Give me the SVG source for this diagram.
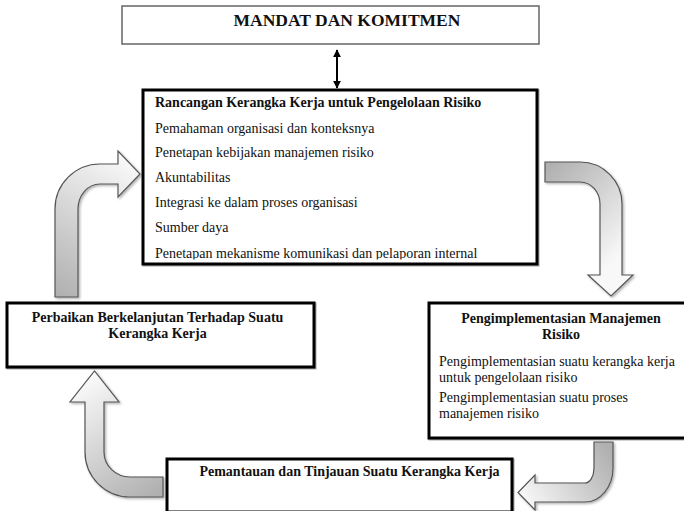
<svg xmlns="http://www.w3.org/2000/svg" width="684" height="511" viewBox="0 0 684 511">
  <defs>
    <style>
      .t { font-family: "Liberation Serif", "Times New Roman", serif; font-size: 14px; fill: #111; }
      .b { font-weight: bold; }
      .box { fill: #fff; stroke: #000; stroke-width: 3; }
      .arrow { stroke: #555; stroke-width: 1.2; filter: url(#shadow); }
    </style>
    <filter id="shadow" x="-20%" y="-20%" width="150%" height="150%">
      <feDropShadow dx="1.5" dy="1.5" stdDeviation="1" flood-color="#000" flood-opacity="0.3"/>
    </filter>
    <filter id="boxshadow" x="-5%" y="-5%" width="110%" height="115%">
      <feDropShadow dx="1" dy="1" stdDeviation="0.6" flood-color="#000" flood-opacity="0.35"/>
    </filter>
    <linearGradient id="gA" gradientUnits="userSpaceOnUse" x1="545" y1="170" x2="625" y2="250">
      <stop offset="0" stop-color="#b0b0b0"/><stop offset="1" stop-color="#f8f8f8"/>
    </linearGradient>
    <linearGradient id="gB" gradientUnits="userSpaceOnUse" x1="60" y1="297" x2="140" y2="170">
      <stop offset="0" stop-color="#b0b0b0"/><stop offset="1" stop-color="#f8f8f8"/>
    </linearGradient>
    <linearGradient id="gC" gradientUnits="userSpaceOnUse" x1="163" y1="490" x2="90" y2="380">
      <stop offset="0" stop-color="#b0b0b0"/><stop offset="1" stop-color="#f8f8f8"/>
    </linearGradient>
    <linearGradient id="gD" gradientUnits="userSpaceOnUse" x1="604" y1="442" x2="520" y2="495">
      <stop offset="0" stop-color="#b0b0b0"/><stop offset="1" stop-color="#f8f8f8"/>
    </linearGradient>
    <marker id="head" viewBox="0 0 10 10" refX="9" refY="5" markerWidth="4" markerHeight="4" orient="auto-start-reverse">
      <path d="M0,0 L10,5 L0,10 Z" fill="#000"/>
    </marker>
    <clipPath id="clipCenter">
      <rect x="143" y="90" width="394" height="169.5"/>
    </clipPath>
  </defs>

  <!-- connectors -->
  <g id="connectors">
    <line x1="337" y1="50" x2="337" y2="88" stroke="#000" stroke-width="2" marker-start="url(#head)" marker-end="url(#head)"/>
    <path class="arrow" fill="url(#gA)" d="M545,162 H580 A42,42 0 0 1 622,204 V275 H633 L611,296 L588,275 H600 V204 A20,22 0 0 0 580,182 H545 Z"/>
    <path class="arrow" fill="url(#gB)" d="M55,297 V209 A45,45 0 0 1 100,164 H118 V151 L140,174 L118,197 V184 H100 A22,25 0 0 0 78,209 V297 Z"/>
    <path class="arrow" fill="url(#gC)" d="M163,477 H130 A26,25 0 0 1 104,452 V402 H119 L94.5,371 L70,402 H85 V452 A45,45 0 0 0 130,497 H163 Z"/>
    <path class="arrow" fill="url(#gD)" d="M594,442 H613 V468 A28,34 0 0 1 585,502 H535 V510 L518,492.5 L535,475 V483 H585 A9,15 0 0 0 594,468 Z"/>
  </g>

  <!-- mandate and commitment -->
  <g id="mandat">
    <rect x="122" y="6" width="417" height="38" fill="#fff" stroke="#666" stroke-width="1.5"/>
    <text class="t b" x="347" y="26" text-anchor="middle" style="font-size:17.5px">MANDAT DAN KOMITMEN</text>
  </g>

  <!-- framework design -->
  <g id="rancangan">
    <rect class="box" x="143" y="90" width="394" height="174" filter="url(#boxshadow)"/>
    <g clip-path="url(#clipCenter)">
      <text class="t b" x="155" y="107">Rancangan Kerangka Kerja untuk Pengelolaan Risiko</text>
      <text class="t" x="155" y="132.5">Pemahaman organisasi dan konteksnya</text>
      <text class="t" x="155" y="157">Penetapan kebijakan manajemen risiko</text>
      <text class="t" x="155" y="182">Akuntabilitas</text>
      <text class="t" x="155" y="207">Integrasi ke dalam proses organisasi</text>
      <text class="t" x="155" y="232">Sumber daya</text>
      <text class="t" x="155" y="257.5">Penetapan mekanisme komunikasi dan pelaporan internal</text>
    </g>
  </g>

  <!-- implementation -->
  <g id="implementasi">
    <rect class="box" x="429" y="303" width="258" height="135" filter="url(#boxshadow)"/>
    <text class="t b" x="561" y="323" text-anchor="middle">Pengimplementasian Manajemen</text>
    <text class="t b" x="561" y="339" text-anchor="middle">Risiko</text>
    <text class="t" x="439" y="366">Pengimplementasian suatu kerangka kerja</text>
    <text class="t" x="439" y="382">untuk pengelolaan risiko</text>
    <text class="t" x="439" y="402">Pengimplementasian suatu proses</text>
    <text class="t" x="439" y="418">manajemen risiko</text>
  </g>

  <!-- monitoring and review -->
  <g id="pemantauan">
    <rect class="box" x="167" y="459" width="345" height="53" filter="url(#boxshadow)"/>
    <text class="t b" x="349.5" y="476" text-anchor="middle">Pemantauan dan Tinjauan Suatu Kerangka Kerja</text>
  </g>

  <!-- continual improvement -->
  <g id="perbaikan">
    <rect class="box" x="7" y="303" width="307" height="64" filter="url(#boxshadow)"/>
    <text class="t b" x="157.5" y="322" text-anchor="middle">Perbaikan Berkelanjutan Terhadap Suatu</text>
    <text class="t b" x="157.5" y="338" text-anchor="middle">Kerangka Kerja</text>
  </g>
</svg>
